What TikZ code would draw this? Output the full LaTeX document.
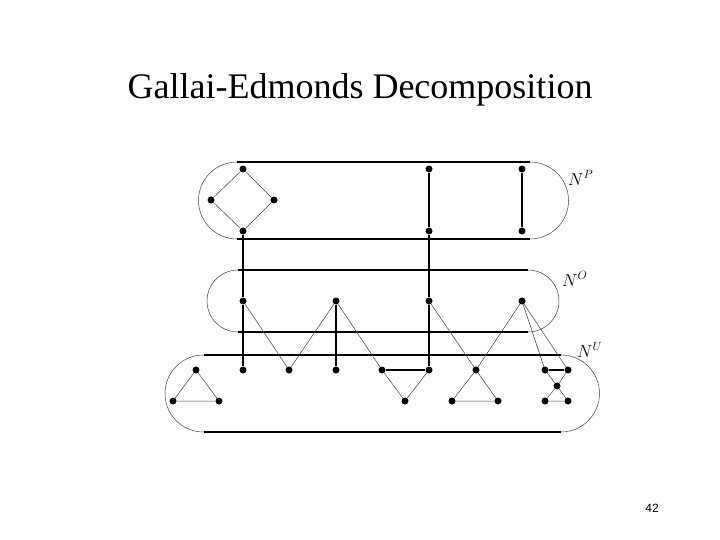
\documentclass[tikz,border=0pt]{standalone}
\usepackage{fontspec}
\setmainfont{Liberation Serif}
\newfontfamily\arialfont{Liberation Sans}
\begin{document}
\begin{tikzpicture}[x=1pt,y=-1pt,
  dot/.style={circle,fill=black,inner sep=0pt,minimum size=7pt},
  thickedge/.style={line width=1.6pt},
  thinedge/.style={line width=0.5pt,black!75},
  border/.style={line width=1.6pt},
  arcline/.style={line width=0.5pt,black!75},
  lab/.style={font=\fontsize{17}{20}\selectfont,inner sep=0pt}]
\useasboundingbox (0,0) rectangle (720,540);
% title
\node[anchor=base,font=\fontsize{36}{40}\selectfont,inner sep=0pt] (title) at (360,99) {Gallai-Edmonds Decomposition};
\node[anchor=base,font=\arialfont\fontsize{12}{14}\selectfont,inner sep=0pt] (page) at (652,512) {42};
% regions
\draw[border] (237,162) -- (530,162) (237,239) -- (530,239);
\draw[arcline] (237,162) arc[start angle=-90,end angle=-270,radius=38.5];
\draw[arcline] (530,162) arc[start angle=-90,end angle=90,radius=38.5];
\draw[border] (238,270) -- (528,270) (238,332) -- (528,332);
\draw[arcline] (238,270) arc[start angle=-90,end angle=-270,radius=31];
\draw[arcline] (528,270) arc[start angle=-90,end angle=90,radius=31];
\draw[border] (203.5,355) -- (561,355) (203.5,432) -- (561,432);
\draw[arcline] (203.5,355) arc[start angle=-90,end angle=-270,radius=38.5];
\draw[arcline] (561,355) arc[start angle=-90,end angle=90,radius=38.5];
\node[lab,anchor=west] (NP) at (568,178) {$N^P$};
\node[lab,anchor=west] (NO) at (562,279) {$N^O$};
\node[lab,anchor=west] (NU) at (577,350) {$N^U$};
% top nodes
\node[dot] (a1) at (243,169) {};
\node[dot] (a2) at (211,200) {};
\node[dot] (a3) at (274,200) {};
\node[dot] (a4) at (243,231) {};
\node[dot] (b1) at (429,169) {};
\node[dot] (b2) at (429,231) {};
\node[dot] (c1) at (522,169) {};
\node[dot] (c2) at (522,231) {};
% middle nodes
\node[dot] (m1) at (243,301) {};
\node[dot] (m2) at (336,301) {};
\node[dot] (m3) at (429,301) {};
\node[dot] (m4) at (522,301) {};
% bottom nodes
\node[dot] (t1) at (196,370) {};
\node[dot] (t2) at (173,401) {};
\node[dot] (t3) at (219,401) {};
\node[dot] (u1) at (243,370) {};
\node[dot] (u2) at (289,370) {};
\node[dot] (u3) at (336,370) {};
\node[dot] (u4) at (382,370) {};
\node[dot] (u5) at (429,370) {};
\node[dot] (u6) at (405,401) {};
\node[dot] (v1) at (476,370) {};
\node[dot] (v2) at (452,401) {};
\node[dot] (v3) at (498,401) {};
\node[dot] (w1) at (545,370) {};
\node[dot] (w2) at (568,370) {};
\node[dot] (w3) at (557,386) {};
\node[dot] (w4) at (545,401) {};
\node[dot] (w5) at (568,401) {};
% thin edges
\draw[thinedge] (a1) -- (a2) -- (a4) -- (a3) -- (a1);
\draw[thinedge] (m1) -- (u2) -- (m2) -- (u4);
\draw[thinedge] (m3) -- (v1) -- (m4);
\draw[thinedge] (m4) -- (w1);
\draw[thinedge] (m4) -- (w2);
\draw[thinedge] (u4) -- (u6) -- (u5);
\draw[thinedge] (t1) -- (t2) -- (t3) -- (t1);
\draw[thinedge] (v1) -- (v2) -- (v3) -- (v1);
\draw[thinedge] (w1) -- (w3) -- (w2);
\draw[thinedge] (w3) -- (w4) -- (w5) -- (w3);
% thick edges
\draw[thickedge] (a4) -- (m1) -- (u1);
\draw[thickedge] (b1) -- (b2) -- (m3) -- (u5);
\draw[thickedge] (c1) -- (c2);
\draw[thickedge] (m2) -- (u3);
\draw[thickedge] (u4) -- (u5);
\draw[thickedge] (w1) -- (w2);
\end{tikzpicture}
\end{document}
